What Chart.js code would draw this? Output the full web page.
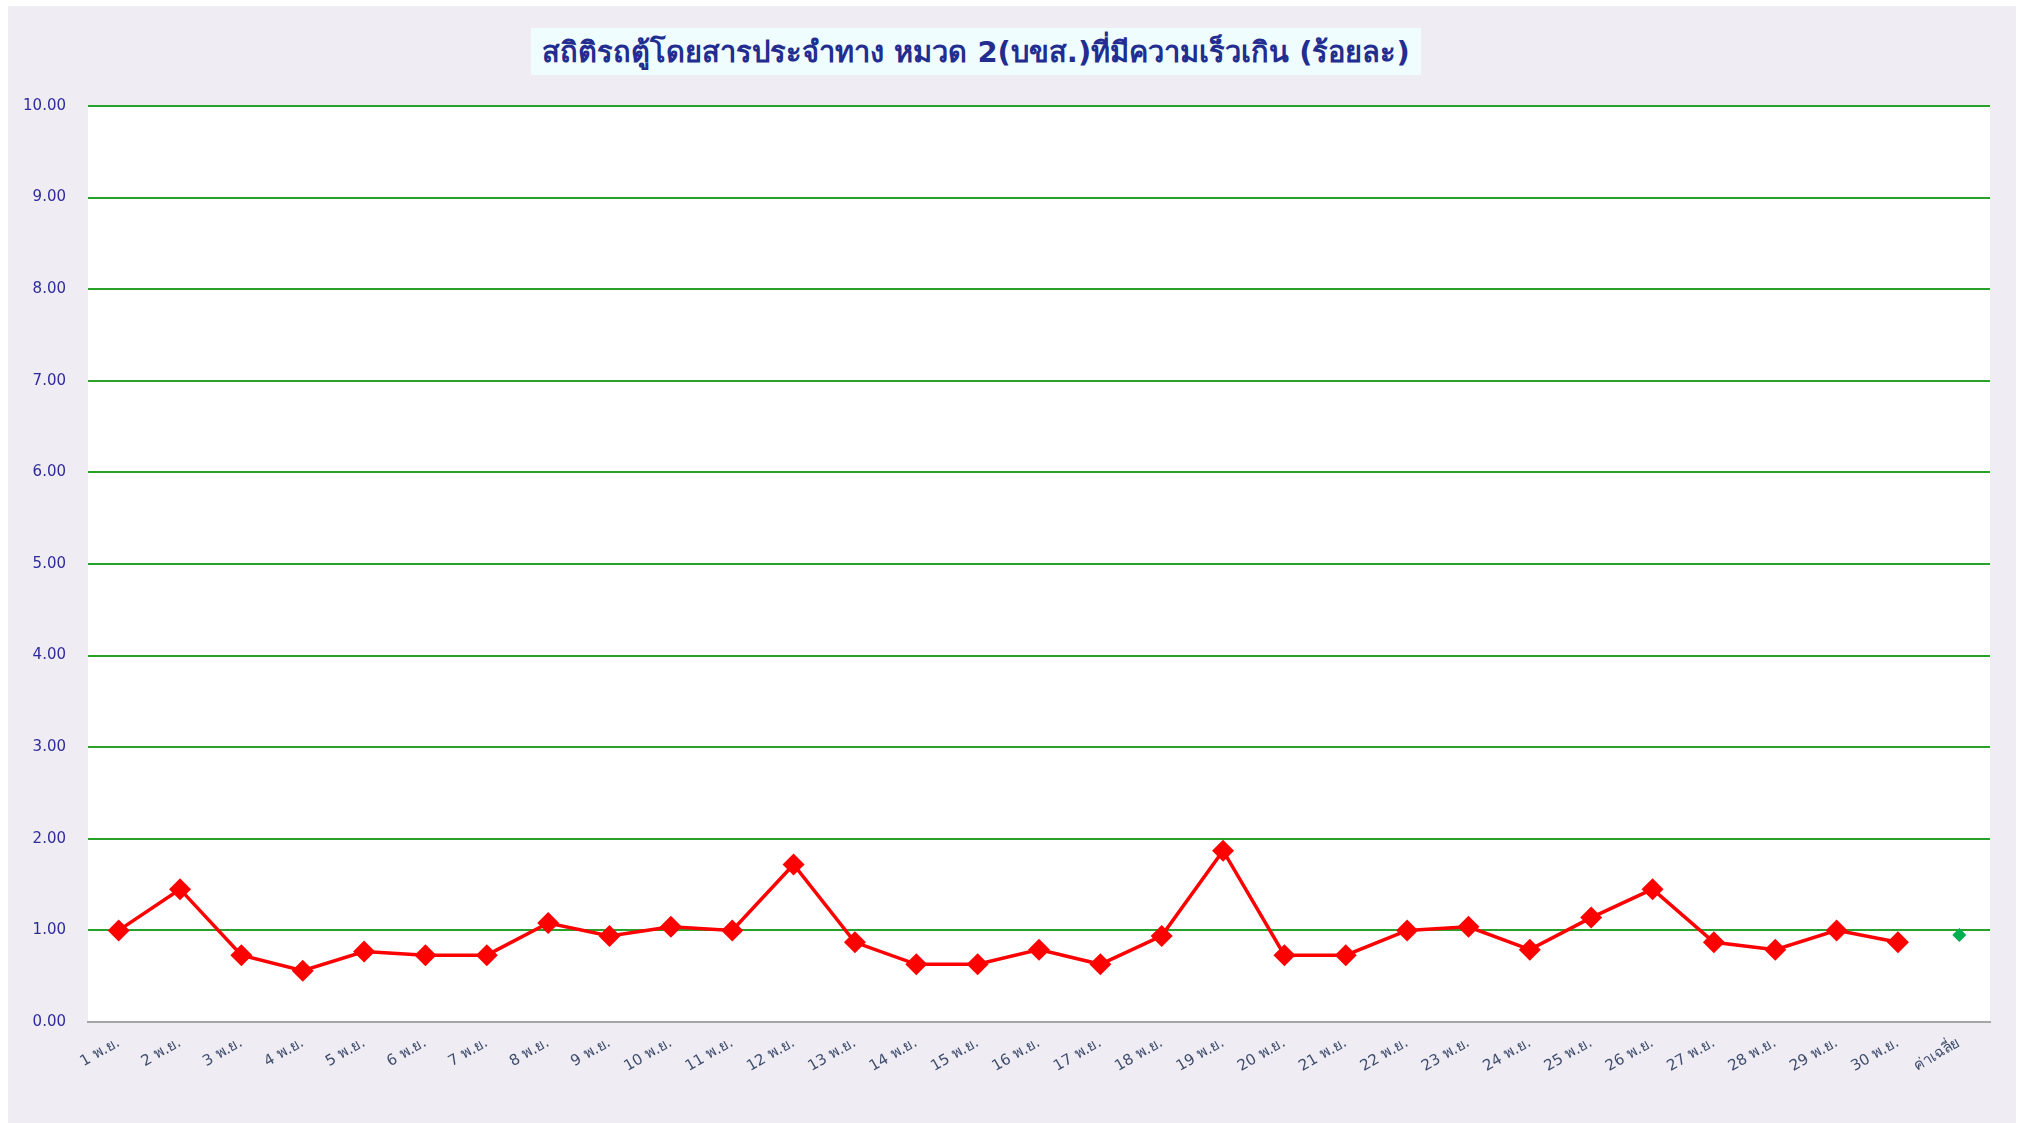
<!DOCTYPE html>
<html lang="th">
<head>
<meta charset="utf-8">
<title>สถิติรถตู้โดยสารประจำทาง หมวด 2</title>
<script src="https://cdn.jsdelivr.net/npm/chart.js@4.4.1/dist/chart.umd.min.js"></script>
<style>
    html, body {
        margin: 0;
        padding: 0;
        background: #ffffff;
        width: 2026px;
        height: 1123px;
        overflow: hidden;
    }
    #frame {
        position: absolute;
        left: 8px;
        top: 6px;
        width: 2008px;
        height: 1117px;
        background: #f0ecf4;
    }
    #chart-title {
        position: absolute;
        left: 531px;
        top: 28px;
        width: 890px;
        height: 47px;
        background: #f0fdff;
        color: #232d8f;
        font-family: Tahoma, "DejaVu Sans", "Noto Sans", sans-serif;
        font-weight: bold;
        font-size: 29px;
        line-height: 49px;
        text-align: center;
        z-index: 2;
    }
    #chart-wrap {
        position: absolute;
        left: 0;
        top: 0;
        width: 2026px;
        height: 1123px;
    }
</style>
</head>
<body>
<div id="frame"></div>
<div id="chart-title">สถิติรถตู้โดยสารประจำทาง หมวด 2(บขส.)ที่มีความเร็วเกิน (ร้อยละ)</div>
<div id="chart-wrap"><canvas id="speed-chart" width="2026" height="1123"></canvas></div>

<script>
// Days of November plus the average column
const dayLabels = [
    '1 พ.ย.', '2 พ.ย.', '3 พ.ย.', '4 พ.ย.', '5 พ.ย.', '6 พ.ย.', '7 พ.ย.', '8 พ.ย.', '9 พ.ย.', '10 พ.ย.',
    '11 พ.ย.', '12 พ.ย.', '13 พ.ย.', '14 พ.ย.', '15 พ.ย.', '16 พ.ย.', '17 พ.ย.', '18 พ.ย.', '19 พ.ย.', '20 พ.ย.',
    '21 พ.ย.', '22 พ.ย.', '23 พ.ย.', '24 พ.ย.', '25 พ.ย.', '26 พ.ย.', '27 พ.ย.', '28 พ.ย.', '29 พ.ย.', '30 พ.ย.',
    'ค่าเฉลี่ย'
];

// Percentage of vans over the speed limit, per day
const dailyPercent = [
    1.00, 1.45, 0.73, 0.56, 0.77, 0.73, 0.73, 1.08, 0.94, 1.04,
    1.00, 1.72, 0.87, 0.63, 0.63, 0.79, 0.63, 0.94, 1.87, 0.73,
    0.73, 1.00, 1.04, 0.79, 1.14, 1.45, 0.87, 0.79, 1.00, 0.87
];

// Monthly average, shown in the last column
const averagePercent = 0.95;

const yTicks = { min: 0, max: 10, step: 1 };

const gridGreen = '#2aa12a';
const labelFont = 'Tahoma, "DejaVu Sans", "Noto Sans", sans-serif';

// white plot background behind the grid
const plotBackground = {
    id: 'plotBackground',
    beforeDraw(chart) {
        const { ctx, chartArea } = chart;
        ctx.save();
        ctx.fillStyle = '#ffffff';
        ctx.fillRect(chartArea.left, chartArea.top, chartArea.right - chartArea.left, chartArea.bottom - chartArea.top);
        ctx.restore();
    }
};

const avgData = dayLabels.map((_, i) => (i === dayLabels.length - 1 ? averagePercent : null));

const ctx = document.getElementById('speed-chart').getContext('2d');

const chart = new Chart(ctx, {
    type: 'line',
    data: {
        labels: dayLabels,
        datasets: [
            {
                label: 'ร้อยละ',
                data: dailyPercent,
                borderColor: '#ff0000',
                backgroundColor: '#ff0000',
                borderWidth: 3.5,
                pointStyle: 'rectRot',
                pointRadius: 11,
                pointBorderWidth: 0,
                tension: 0
            },
            {
                label: 'ค่าเฉลี่ย',
                data: avgData,
                showLine: false,
                borderColor: '#00b050',
                backgroundColor: '#00b050',
                pointStyle: 'rectRot',
                pointRadius: 7,
                pointBorderWidth: 0
            }
        ]
    },
    options: {
        responsive: false,
        animation: false,
        layout: {
            padding: { top: 106, right: 36, bottom: 0, left: 0 }
        },
        plugins: {
            legend: { display: false },
            title: { display: false },
            tooltip: { enabled: false }
        },
        scales: {
            x: {
                offset: true,
                grid: { display: false, drawTicks: false },
                border: { display: true, color: '#a6a6a6', width: 2 },
                ticks: {
                    color: '#3e4d6c',
                    font: { family: labelFont, size: 15 },
                    minRotation: 30,
                    maxRotation: 30,
                    padding: 12,
                    autoSkip: false
                },
                afterFit(scale) {
                    scale.height = 101;
                }
            },
            y: {
                min: yTicks.min,
                max: yTicks.max,
                border: { display: false },
                grid: {
                    drawTicks: false,
                    lineWidth: 2,
                    color: (c) => (c.tick && c.tick.value === 0 ? 'rgba(0,0,0,0)' : gridGreen)
                },
                ticks: {
                    stepSize: yTicks.step,
                    color: '#2e2c9c',
                    font: { family: labelFont, size: 15 },
                    padding: 22,
                    callback: (v) => v.toFixed(2)
                },
                afterFit(scale) {
                    scale.width = 88;
                }
            }
        }
    },
    plugins: [plotBackground]
});
</script>
</body>
</html>
